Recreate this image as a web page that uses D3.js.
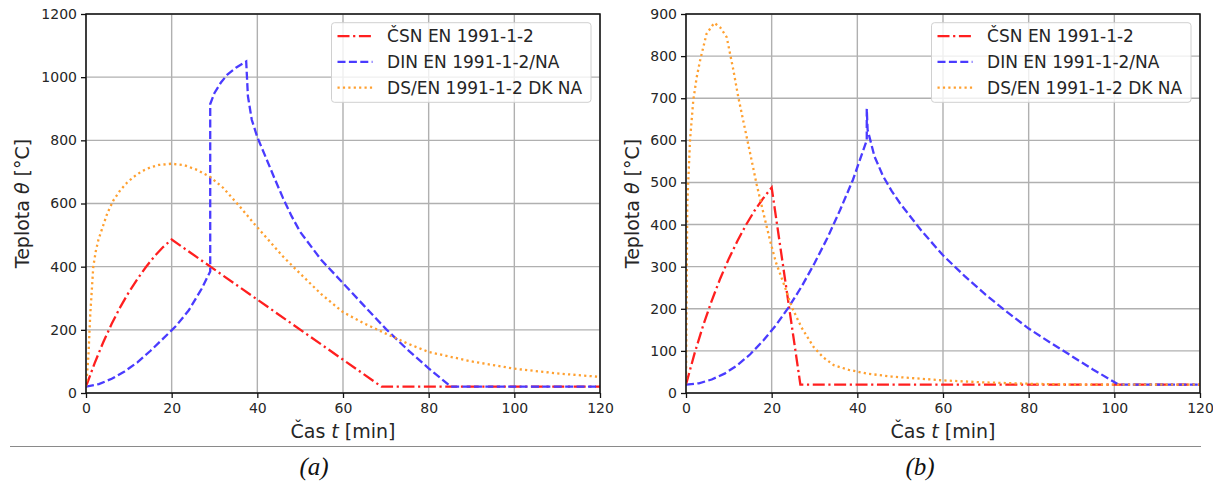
<!DOCTYPE html>
<html><head><meta charset="utf-8">
<script src="https://cdn.jsdelivr.net/npm/d3@7"></script>
<style>body{margin:0;background:#fff} svg{display:block} text{font-family:"DejaVu Sans",sans-serif}</style>
</head><body><svg id="c" width="1213" height="483"></svg>
<script>
// ---------- data ----------
const seriesNames = ["ČSN EN 1991-1-2", "DIN EN 1991-1-2/NA", "DS/EN 1991-1-2 DK NA"];
const xTicks = [0, 20, 40, 60, 80, 100, 120];
const yTicksA = [0, 200, 400, 600, 800, 1000, 1200];
const yTicksB = [0, 100, 200, 300, 400, 500, 600, 700, 800, 900];
const panelLabels = ["(a)", "(b)"];

// (a) ČSN
const tA_CSN  = [0, 2, 4, 6, 8, 10, 12, 14, 16, 18, 20, 69, 120];
const thA_CSN = [20, 94, 160, 219, 272, 319, 361, 399, 433, 462, 486, 20, 20];
// (a) DIN
const tA_DIN  = [0, 3, 6, 9, 12, 15, 18, 21, 24, 27, 29, 29, 30, 31.5, 33, 35, 37.4, 37.8, 38.7, 40, 42, 44, 46, 48, 50, 55, 60, 65, 70, 75, 80, 85.2, 120];
const thA_DIN = [20, 28, 45, 68, 97, 133, 172, 212, 262, 330, 385, 915, 950, 983, 1008, 1030, 1050, 940, 865, 810, 745, 680, 617, 560, 510, 420, 348, 275, 203, 138, 78, 20, 20];
// (a) DS
const tA_DS  = [0, 0.25, 0.55, 1, 1.7, 2.3, 2.9, 4, 5, 6.4, 8, 9.5, 11.1, 13, 15, 17, 20, 23, 26, 29, 32, 36, 39, 42.3, 46, 50, 55, 60, 65, 70, 75, 80, 90, 100, 110, 120];
const thA_DS = [20, 60, 114, 250, 400, 450, 485, 530, 570, 610, 642, 665, 684, 702, 714, 722, 726, 721, 706, 684, 650, 589, 540, 489, 432, 378, 312, 256, 220, 188, 157, 130, 100, 77, 62, 51];

// (b) ČSN
const tB_CSN  = [0, 2, 4, 6, 8, 10, 12, 14, 16, 18, 20, 26.7, 120];
const thB_CSN = [20, 94, 160, 219, 272, 319, 361, 399, 433, 462, 488, 20, 20];
// (b) DIN
const tB_DIN  = [0, 3, 6, 9, 12, 15, 18, 21, 24, 27, 30, 33, 36, 39, 42.2, 42.2, 42.4, 44, 46, 48, 50, 55, 60, 65, 70, 75, 80, 85, 90, 95, 101, 120];
const thB_DIN = [20, 23, 32, 46, 66, 92, 124, 161, 204, 253, 308, 368, 435, 507, 600, 675, 625, 562, 515, 480, 450, 385, 327, 278, 233, 192, 153, 120, 88, 56, 20, 20];
// (b) DS
const tB_DS  = [0, 0.3, 0.94, 1.7, 2.5, 3.3, 4.8, 6.6, 8, 9.5, 11, 12.2, 13.5, 15, 16.5, 18.1, 19.6, 21, 22.8, 24.7, 27, 29.8, 32, 34.5, 38, 42.3, 48, 54.7, 60, 70, 80, 90, 120];
const thB_DS = [20, 450, 600, 695, 750, 790, 853, 879, 868, 845, 770, 703, 640, 568, 495, 426, 363, 310, 260, 204, 155, 109, 85, 66, 55, 46, 39, 34, 30, 25, 22, 20, 20];

// ---------- styles ----------
const styles = [
  {color: "#ff1f1f", dash: "12,3.6,2.2,3.6"},
  {color: "#4a3bff", dash: "8,3.4"},
  {color: "#ffa030", dash: "2.2,3.2"}
];

const svg = d3.select("#c");
const zip = (t, v) => t.map((d, i) => [d, v[i]]);

function drawPanel(p, idx) {
  const x = d3.scaleLinear().domain([0, 120]).range([p.left, p.left + 514]);
  const y = d3.scaleLinear().domain([0, p.yMax]).range([393, 14]);
  const g = svg.append("g");

  // grid
  g.append("g").selectAll("line").data(xTicks).join("line")
    .attr("x1", d => x(d)).attr("x2", d => x(d)).attr("y1", y(0)).attr("y2", y(p.yMax))
    .attr("stroke", "#b0b0b0").attr("stroke-width", 1.4);
  g.append("g").selectAll("line").data(p.yTicks).join("line")
    .attr("y1", d => y(d)).attr("y2", d => y(d)).attr("x1", x(0)).attr("x2", x(120))
    .attr("stroke", "#b0b0b0").attr("stroke-width", 1.4);

  // clip
  const cid = "clip" + idx;
  svg.append("clipPath").attr("id", cid).append("rect")
    .attr("x", x(0)).attr("y", y(p.yMax)).attr("width", x(120) - x(0)).attr("height", y(0) - y(p.yMax));

  const line = d3.line().x(d => x(d[0])).y(d => y(d[1]));
  const sg = g.append("g").attr("clip-path", `url(#${cid})`);
  p.series.forEach((s, i) => {
    sg.append("path").datum(s).attr("d", line)
      .attr("fill", "none").attr("stroke", styles[i].color).attr("stroke-width", 2.3)
      .attr("stroke-dasharray", styles[i].dash);
  });

  // frame
  g.append("rect").attr("x", x(0)).attr("y", y(p.yMax)).attr("width", x(120) - x(0)).attr("height", y(0) - y(p.yMax))
    .attr("fill", "none").attr("stroke", "#111").attr("stroke-width", 1.5);

  // axes
  const ax = g.append("g").attr("transform", `translate(0,${y(0)})`)
    .call(d3.axisBottom(x).tickValues(xTicks).tickSize(5).tickPadding(5).tickFormat(d3.format("d")));
  const ay = g.append("g").attr("transform", `translate(${x(0)},0)`)
    .call(d3.axisLeft(y).tickValues(p.yTicks).tickSize(5).tickPadding(4).tickFormat(d3.format("d")));
  [ax, ay].forEach(a => {
    a.select(".domain").remove();
    a.selectAll(".tick line").attr("stroke", "#111").attr("stroke-width", 1.3);
    a.selectAll(".tick text").attr("fill", "#262626").style("font-size", "14px").style("font-family", "DejaVu Sans");
  });

  // axis labels
  const xl = g.append("text").attr("x", (x(0) + x(120)) / 2).attr("y", 438).attr("text-anchor", "middle")
    .attr("fill", "#262626").style("font-size", "19px");
  xl.append("tspan").text("Čas ");
  xl.append("tspan").style("font-style", "italic").text("t");
  xl.append("tspan").text(" [min]");

  const yl = g.append("text").attr("transform", `translate(${p.ylabelX},${(y(0) + y(p.yMax)) / 2}) rotate(-90)`)
    .attr("text-anchor", "middle").attr("fill", "#262626").style("font-size", "19px");
  yl.append("tspan").text("Teplota ");
  yl.append("tspan").style("font-style", "italic").text("θ");
  yl.append("tspan").text(" [°C]");

  // legend
  const lx = x(120) - 268.5, ly = 22.7;
  const lg = g.append("g");
  lg.append("rect").attr("x", lx).attr("y", ly).attr("width", 259.5).attr("height", 79.6).attr("rx", 3)
    .attr("fill", "#fff").attr("fill-opacity", 0.8).attr("stroke", "#d0d0d0").attr("stroke-width", 1);
  seriesNames.forEach((n, i) => {
    const yy = ly + 13.5 + i * 25.7;
    lg.append("line").attr("x1", lx + 6).attr("x2", lx + 41).attr("y1", yy).attr("y2", yy)
      .attr("stroke", styles[i].color).attr("stroke-width", 2.3).attr("stroke-dasharray", styles[i].dash);
    lg.append("text").attr("x", lx + 55.6).attr("y", yy + 6).attr("fill", "#262626")
      .style("font-size", "17px").text(n);
  });

  // panel label
  svg.append("text").attr("x", p.labelX).attr("y", 475).attr("text-anchor", "middle")
    .style("font-family", "Liberation Serif").style("font-style", "italic").style("font-size", "25px")
    .attr("fill", "#111").text(panelLabels[idx]);
}

const panels = [
  {left: 86, yMax: 1200, yTicks: yTicksA, ylabelX: 29, labelX: 314,
   series: [zip(tA_CSN, thA_CSN), zip(tA_DIN, thA_DIN), zip(tA_DS, thA_DS)]},
  {left: 686, yMax: 900, yTicks: yTicksB, ylabelX: 639, labelX: 920,
   series: [zip(tB_CSN, thB_CSN), zip(tB_DIN, thB_DIN), zip(tB_DS, thB_DS)]}
];
panels.forEach(drawPanel);

// separator line
svg.append("line").attr("x1", 10).attr("x2", 1201).attr("y1", 446.5).attr("y2", 446.5)
  .attr("stroke", "#8a8a8a").attr("stroke-width", 1.2);
</script></body></html>
